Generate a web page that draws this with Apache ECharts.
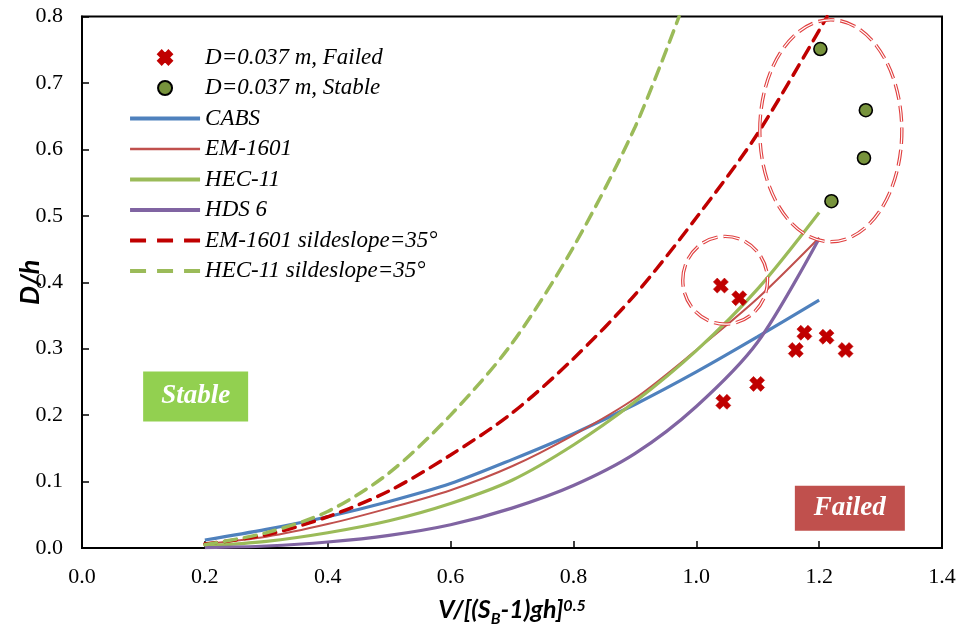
<!DOCTYPE html>
<html>
<head>
<meta charset="utf-8">
<script src="https://cdn.jsdelivr.net/npm/echarts@6/dist/echarts.min.js"></script>
<style>
  html, body { margin: 0; padding: 0; background: #fff; }
  #chart { width: 957px; height: 627px; }
</style>
</head>
<body>
<div id="chart"></div>
<script>
// Relative velocity V/[(S_B-1)gh]^0.5 at which each design curve is evaluated
const curveX = [0.2, 0.3, 0.4, 0.5, 0.6, 0.7, 0.8, 0.9, 1.0, 1.1, 1.2];

// Design curves, D/h
const cabs    = [0.012, 0.028, 0.047, 0.070, 0.097, 0.133, 0.172, 0.216, 0.265, 0.318, 0.373];
const em1601  = [0.006, 0.017, 0.036, 0.060, 0.087, 0.123, 0.170, 0.225, 0.298, 0.376, 0.467];
const hec11   = [0.003, 0.010, 0.023, 0.041, 0.067, 0.102, 0.155, 0.220, 0.297, 0.390, 0.505];
const hds6    = [0.0005, 0.003, 0.009, 0.019, 0.035, 0.060, 0.094, 0.142, 0.213, 0.310, 0.466];

// Side slope 35 degree curves
const em35X   = [0.2, 0.3, 0.4, 0.5, 0.6, 0.7, 0.8, 0.9, 1.0, 1.1, 1.213];
const em35Y   = [0.006, 0.020, 0.047, 0.086, 0.140, 0.203, 0.285, 0.381, 0.497, 0.624, 0.800];
const hec35X  = [0.2, 0.3, 0.4, 0.5, 0.6, 0.7, 0.8, 0.9, 0.972];
const hec35Y  = [0.005, 0.023, 0.055, 0.113, 0.200, 0.308, 0.453, 0.633, 0.800];

// Test results for D = 0.037 m
const failedX = [1.040, 1.070, 1.176, 1.212, 1.162, 1.243, 1.099, 1.044];
const failedY = [0.395, 0.376, 0.324, 0.318, 0.298, 0.298, 0.247, 0.220];
const stableX = [1.202, 1.276, 1.273, 1.220];
const stableY = [0.751, 0.659, 0.587, 0.522];

// Axis ticks
const xTicks = [0.0, 0.2, 0.4, 0.6, 0.8, 1.0, 1.2, 1.4];
const yTicks = [0.0, 0.1, 0.2, 0.3, 0.4, 0.5, 0.6, 0.7, 0.8];

// Series names
const names = [
  'D=0.037 m, Failed',
  'D=0.037 m, Stable',
  'CABS',
  'EM-1601',
  'HEC-11',
  'HDS 6',
  'EM-1601 sildeslope=35°',
  'HEC-11 sildeslope=35°'
];

// Region annotations (data units)
const groupOutlines = [
  { cx: 1.219, cy: 0.628, rx: 0.1156, ry: 0.167 },
  { cx: 1.047, cy: 0.403, rx: 0.069,  ry: 0.066 }
];
const regionLabels = [
  { text: 'Stable', cx: 0.185, cy: 0.228, w: 105, h: 50, fill: '#92D050' },
  { text: 'Failed', cx: 1.250, cy: 0.060, w: 110, h: 45, fill: '#C0504D' }
];

const pairs = (xa, ya) => xa.map((x, i) => [x, ya[i]]);

const serif = 'Liberation Serif, Times New Roman, serif';
const sans = 'Lato, Carlito, Calibri, sans-serif';
const xMarker = 'path://M0,2.6 L2.6,0 L5,2.4 L7.4,0 L10,2.6 L7.6,5 L10,7.4 L7.4,10 L5,7.6 L2.6,10 L0,7.4 L2.4,5 Z';

const lineStyles = {};
function lineSeries(name, data, color, width, dashed) {
  lineStyles[name] = { color: color, width: width, dashed: dashed };
  return {
    name: name,
    type: 'line',
    data: data,
    smooth: 0.3,
    symbol: 'none',
    showSymbol: false,
    z: 2,
    lineStyle: {
      color: color,
      width: width,
      type: dashed ? [12, 8] : 'solid',
      cap: dashed ? 'round' : 'butt'
    },
    itemStyle: { color: color }
  };
}

const series = [
  {
    name: names[0],
    type: 'scatter',
    data: pairs(failedX, failedY),
    symbol: xMarker,
    symbolSize: 15,
    z: 5,
    itemStyle: { color: '#C00000', borderColor: '#C00000', borderWidth: 0.6, opacity: 1 }
  },
  {
    name: names[1],
    type: 'scatter',
    data: pairs(stableX, stableY),
    symbol: 'circle',
    symbolSize: 13,
    z: 5,
    itemStyle: { color: '#77933C', borderColor: '#000', borderWidth: 1.6, opacity: 1 }
  },
  lineSeries(names[2], pairs(curveX, cabs), '#4F81BD', 3.2, false),
  lineSeries(names[3], pairs(curveX, em1601), '#C0504D', 2, false),
  lineSeries(names[4], pairs(curveX, hec11), '#9BBB59', 3.2, false),
  lineSeries(names[5], pairs(curveX, hds6), '#8064A2', 3.2, false),
  lineSeries(names[6], pairs(em35X, em35Y), '#C00000', 3.5, true),
  lineSeries(names[7], pairs(hec35X, hec35Y), '#9BBB59', 3.5, true)
];

// Legend entries: line items show only the stroke, no point marker
const legendData = names.map(n => {
  const ls = lineStyles[n];
  if (!ls) return { name: n, itemStyle: { opacity: 1 } };
  return {
    name: n,
    itemStyle: { opacity: 0, color: 'rgba(0,0,0,0)', borderWidth: 0 },
    lineStyle: {
      color: ls.color,
      width: ls.width + 0.6,
      type: ls.dashed ? [16, 11] : 'solid',
      cap: 'butt'
    }
  };
});

const chart = echarts.init(document.getElementById('chart'), null, { renderer: 'canvas' });

const option = {
  animation: false,
  backgroundColor: '#fff',
  grid: {
    left: 82, right: 15, top: 16.5, bottom: 79,
    containLabel: false,
    outerBoundsMode: 'none',
    show: true, borderColor: '#000', borderWidth: 2
  },
  legend: {
    orient: 'vertical',
    left: 128,
    top: 46,
    padding: 0,
    itemWidth: 70,
    itemHeight: 14,
    itemGap: 7.5,
    data: legendData,
    textStyle: {
      fontFamily: serif,
      fontStyle: 'italic',
      fontSize: 23,
      lineHeight: 23,
      color: '#000'
    }
  },
  xAxis: {
    type: 'value',
    min: xTicks[0],
    max: xTicks[xTicks.length - 1],
    interval: 0.2,
    name: '{m|V/[(S}{sub|B}{m|-1)gh]}{sup|0.5}',
    nameLocation: 'middle',
    nameGap: 47,
    nameTextStyle: {
      rich: {
        m:   { fontFamily: sans, fontWeight: 'bold', fontStyle: 'italic', fontSize: 25, lineHeight: 25, color: '#000' },
        sub: { fontFamily: sans, fontWeight: 'bold', fontStyle: 'italic', fontSize: 16, lineHeight: 16, padding: [18, 0, 0, 0], color: '#000' },
        sup: { fontFamily: sans, fontWeight: 'bold', fontStyle: 'italic', fontSize: 16, lineHeight: 16, verticalAlign: 'top', color: '#000' }
      }
    },
    axisLine: { show: true, onZero: false, lineStyle: { color: '#000', width: 2 } },
    axisTick: { show: true, inside: true, length: 7, lineStyle: { color: '#000', width: 1.5 } },
    axisLabel: {
      margin: 18,
      fontFamily: serif,
      fontSize: 22,
      color: '#000',
      formatter: v => Number(v).toFixed(1)
    },
    splitLine: { show: false }
  },
  yAxis: {
    type: 'value',
    min: yTicks[0],
    max: yTicks[yTicks.length - 1],
    interval: 0.1,
    name: 'D/h',
    nameLocation: 'middle',
    nameGap: 38,
    nameMoveOverlap: false,
    nameTextStyle: {
      fontFamily: sans, fontWeight: 'bold', fontStyle: 'italic', fontSize: 27, color: '#000'
    },
    axisLine: { show: true, onZero: false, lineStyle: { color: '#000', width: 2 } },
    axisTick: { show: true, inside: true, length: 7, lineStyle: { color: '#000', width: 1.5 } },
    axisLabel: {
      margin: 19,
      fontFamily: serif,
      fontSize: 22,
      color: '#000',
      formatter: v => Number(v).toFixed(1)
    },
    splitLine: { show: false }
  },
  series: series
};

chart.setOption(option);

// Annotations placed from data coordinates
function toPx(x, y) {
  return chart.convertToPixel({ gridIndex: 0 }, [x, y]);
}
const origin = toPx(0, 0);
const unit = toPx(1, 1);
const sx = unit[0] - origin[0];
const sy = origin[1] - unit[1];

const graphics = [];
groupOutlines.forEach(e => {
  const c = toPx(e.cx, e.cy);
  const shape = { cx: c[0], cy: c[1], rx: e.rx * sx, ry: e.ry * sy };
  graphics.push({
    type: 'ellipse', shape: shape, z: 10, silent: true,
    style: { fill: 'none', stroke: '#E04040', lineWidth: 3.4, lineDash: [16, 6] }
  });
  graphics.push({
    type: 'ellipse', shape: shape, z: 11, silent: true,
    style: { fill: 'none', stroke: '#fff', lineWidth: 1.2, lineDash: [16, 6] }
  });
});
regionLabels.forEach(b => {
  const c = toPx(b.cx, b.cy);
  graphics.push({
    type: 'rect', z: 12, silent: true,
    shape: { x: c[0] - b.w / 2, y: c[1] - b.h / 2, width: b.w, height: b.h },
    style: { fill: b.fill }
  });
  graphics.push({
    type: 'text', z: 13, silent: true,
    x: c[0], y: c[1],
    style: {
      text: b.text, fill: '#fff',
      font: 'italic bold 27px ' + serif,
      align: 'center', verticalAlign: 'middle'
    }
  });
});
chart.setOption({ graphic: graphics });
</script>
</body>
</html>
